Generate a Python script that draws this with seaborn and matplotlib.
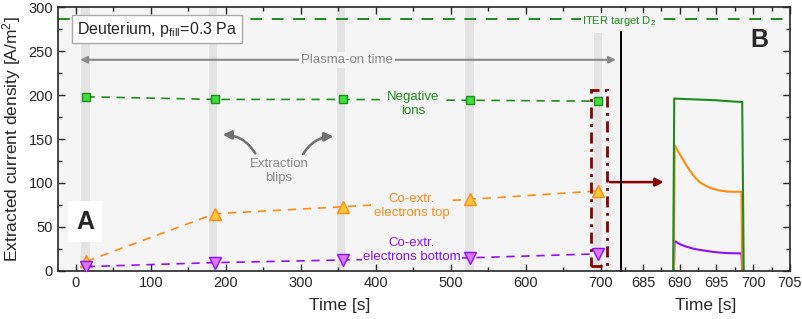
"""
Extracted current densities over a long deuterium pulse (A) and zoom on the last blip (B).
"""
import matplotlib
matplotlib.use('Agg')
import matplotlib.pyplot as plt
from matplotlib.ticker import MultipleLocator
from matplotlib.patches import Rectangle
import pandas as pd
import seaborn as sns

# panel A: values at each extraction blip
blip_times = [14, 185, 356, 526, 697]
neg_ions = [198, 195, 195, 194, 193]
e_top = [11, 65, 73, 81.5, 91]
e_bottom = [5, 9.5, 12.5, 15, 19.5]
band_centers = [12.7, 183, 354, 525, 696]
iter_target = 286

# panel B: time traces of the last blip
b_green_t = [689.1, 689.25, 690.5, 692.0, 693.5, 695.0, 696.5, 698.5, 698.7]
b_green_v = [0, 196, 195.5, 195, 194.5, 194, 193, 192, 0]
b_orange_t = [689.2, 689.3, 689.7, 690.2, 690.7, 691.3, 692.0, 692.7, 693.5, 694.3,
              695.4, 696.5, 697.5, 698.4, 698.5]
b_orange_v = [0, 143, 137, 130, 123, 115, 107, 101, 97, 94, 91.5, 90.3, 90, 90, 0]
b_purple_t = [689.2, 689.3, 690.0, 690.9, 691.8, 692.7, 694.6, 696.4, 698.4, 698.5]
b_purple_v = [0, 34, 30.5, 27.6, 25.5, 24, 21.6, 20.3, 20, 0]

GREEN = '#1f8c1f'
ORANGE = '#ff8a14'
PURPLE = '#8c10ff'
DARKRED = '#8b0000'
GREY = '#8a8a8a'
BG = '#f5f5f5'

sns.set_style('ticks')
plt.rcParams['font.family'] = ['Liberation Sans', 'DejaVu Sans']
plt.rcParams['mathtext.fontset'] = 'custom'
plt.rcParams['mathtext.rm'] = 'Liberation Sans'
plt.rcParams['mathtext.it'] = 'Liberation Sans:italic'

fig = plt.figure(figsize=(8.03, 3.19), dpi=100)
ax = fig.add_axes([0.0722, 0.1505, 0.7011, 0.8275])
bx = fig.add_axes([0.7733, 0.1505, 0.2105, 0.8275], sharey=ax)
ax.set_zorder(3)
bx.set_zorder(2)

for a in (ax, bx):
    a.set_facecolor(BG)
    a.tick_params(which='both', direction='in', top=True, labelsize=10.5, width=1)
    a.tick_params(which='major', length=5)
    a.tick_params(which='minor', length=3)
    for s in a.spines.values():
        s.set_linewidth(1.2)

# ---------- panel A ----------
for i, c in enumerate(band_centers):
    ymax = 0.9 if i == len(band_centers) - 1 else 1
    ax.axvspan(c - 5.5, c + 5.5, ymax=ymax, color='#e3e3e3', lw=0, zorder=0)

ax.axhline(iter_target, color=GREEN, ls=(0, (6, 5)), lw=1.4, zorder=1)

df = pd.DataFrame({'t': blip_times, 'neg': neg_ions, 'top': e_top, 'bot': e_bottom})
sns.lineplot(data=df, x='t', y='neg', ax=ax, color=GREEN, ls=(0, (5, 4)), lw=1.2,
             marker='s', markersize=6, markerfacecolor='#3ee03e', markeredgecolor=GREEN,
             markeredgewidth=1, zorder=3)
sns.lineplot(data=df, x='t', y='top', ax=ax, color=ORANGE, ls=(0, (5, 4)), lw=1.2,
             marker='^', markersize=8, markerfacecolor='#ffc83c', markeredgecolor=ORANGE,
             markeredgewidth=1, zorder=3)
sns.lineplot(data=df, x='t', y='bot', ax=ax, color=PURPLE, ls=(0, (5, 4)), lw=1.2,
             marker='v', markersize=8, markerfacecolor='#dd77ff', markeredgecolor=PURPLE,
             markeredgewidth=1, zorder=3)

ax.set_xlim(-24, 727)
ax.set_ylim(0, 300)
ax.xaxis.set_major_locator(MultipleLocator(100))
ax.xaxis.set_minor_locator(MultipleLocator(50))
ax.yaxis.set_major_locator(MultipleLocator(50))
ax.yaxis.set_minor_locator(MultipleLocator(25))
ax.spines['right'].set_visible(False)
ax.set_xlabel('Time [s]', fontsize=12.5, labelpad=6)
ax.set_ylabel('Extracted current density [A/m$^2$]', fontsize=12.5, labelpad=4)
ax.axvline(727, ymax=0.905, color='black', lw=1.4, clip_on=False, zorder=5)

ax.text(1, 275, 'Deuterium, p$_\\mathrm{fill}$=0.3 Pa', fontsize=11.5, va='center',
        bbox=dict(boxstyle='square,pad=0.3', fc='white', ec='#aaaaaa', lw=1), zorder=6)

ax.annotate('', xy=(2, 240), xytext=(724, 240),
            arrowprops=dict(arrowstyle='<|-|>', color=GREY, lw=1.5, mutation_scale=10))
ax.text(362, 240, 'Plasma-on time', color=GREY, fontsize=9.5, ha='center', va='center',
        bbox=dict(fc=BG, ec='none', pad=1.5), zorder=4)

ax.text(725, 284, 'ITER target D$_2$', color=GREEN, fontsize=8, ha='center', va='center',
        bbox=dict(fc=BG, ec='none', pad=1), zorder=7, clip_on=False)

ax.text(450, 190, 'Negative\nions', color=GREEN, fontsize=9.5, ha='center', va='center',
        linespacing=1.25, bbox=dict(fc=BG, ec='none', pad=1), zorder=4)
ax.text(448, 74, 'Co-extr.\nelectrons top', color=ORANGE, fontsize=9.5, ha='center',
        va='center', linespacing=1.25, bbox=dict(fc=BG, ec='none', pad=1), zorder=4)
ax.text(448, 24, 'Co-extr.\nelectrons bottom', color=PURPLE, fontsize=9.5, ha='center',
        va='center', linespacing=1.25, bbox=dict(fc=BG, ec='none', pad=1), zorder=4)

ax.text(271, 114, 'Extraction\nblips', color=GREY, fontsize=9.5, ha='center', va='center',
        linespacing=1.25)
ax.annotate('', xy=(192, 155), xytext=(241, 131),
            arrowprops=dict(arrowstyle='-|>', color='#707070', lw=1.8, mutation_scale=13,
                            connectionstyle='arc3,rad=0.3'))
ax.annotate('', xy=(347, 153), xytext=(301, 130),
            arrowprops=dict(arrowstyle='-|>', color='#707070', lw=1.8, mutation_scale=13,
                            connectionstyle='arc3,rad=-0.3'))

ax.text(12, 56, 'A', fontsize=18, fontweight='bold', ha='center', va='center',
        bbox=dict(fc='white', ec='none', pad=6), zorder=6)

ax.add_patch(Rectangle((687.5, 6), 21, 200, fill=False, ec=DARKRED, lw=2,
                       ls=(0, (4, 2, 1, 2)), zorder=6))
ax.annotate('', xy=(688.2, 101), xycoords=bx.transData, xytext=(708.5, 101),
            textcoords='data', annotation_clip=False,
            arrowprops=dict(arrowstyle='-|>', color=DARKRED, lw=1.8, mutation_scale=12))

# ---------- panel B ----------
bx.axhline(iter_target, color=GREEN, ls=(0, (6, 5)), lw=1.4, zorder=1)
bx.plot(b_purple_t, b_purple_v, color=PURPLE, lw=1.5)
bx.plot(b_orange_t, b_orange_v, color=ORANGE, lw=1.5)
bx.plot(b_green_t, b_green_v, color=GREEN, lw=1.5)
bx.set_xlim(682, 705)
bx.xaxis.set_major_locator(MultipleLocator(5))
bx.xaxis.set_minor_locator(MultipleLocator(2.5))
bx.spines['left'].set_visible(False)
bx.tick_params(axis='y', which='both', left=False, right=True, labelleft=False)
bx.set_xlabel('Time [s]', fontsize=12.5, labelpad=6)
bx.set_ylabel('')
bx.text(700.8, 262, 'B', fontsize=18, fontweight='bold', ha='center', va='center')

plt.savefig('out.png', dpi=100)
